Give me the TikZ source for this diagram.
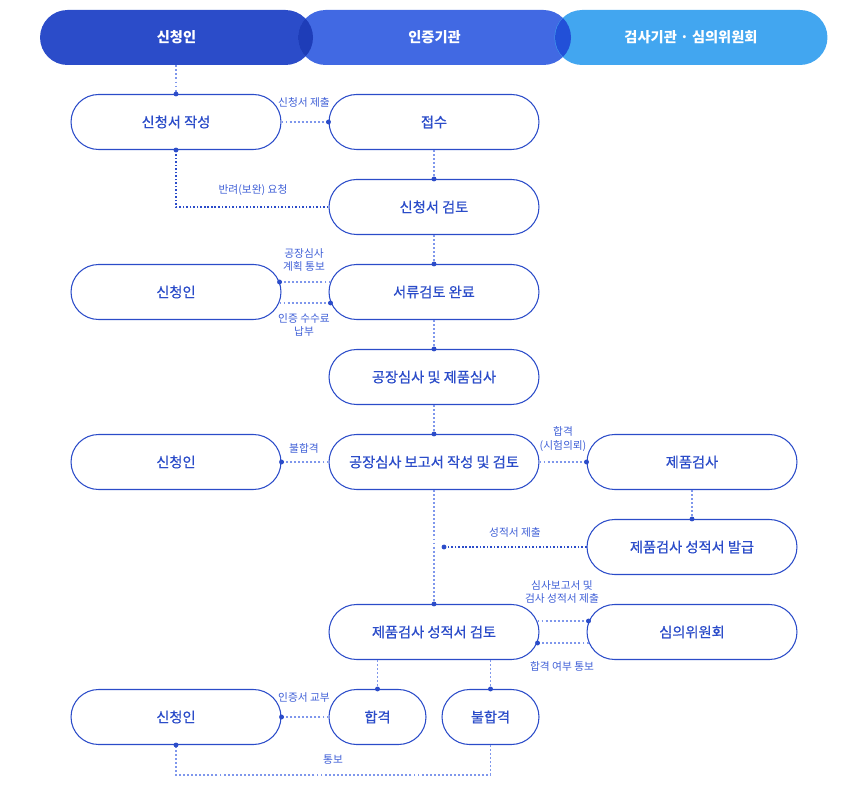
\documentclass[tikz,border=0pt]{standalone}
\usepackage{fontspec}
\setmainfont{Noto Sans CJK KR}
\newfontfamily\midfont{Noto Sans CJK KR}[FakeBold=0.6]
\usetikzlibrary{positioning,shapes.misc}

\definecolor{hdone}{HTML}{2B4CC9}
\definecolor{hdtwo}{HTML}{4169E3}
\definecolor{hdthree}{HTML}{42A6F0}
\definecolor{lapone}{HTML}{1E3DB8}
\definecolor{laptwo}{HTML}{2250D8}
\definecolor{ink}{HTML}{2B4CC9}
\definecolor{linkc}{HTML}{7F97EC}
\definecolor{lblc}{HTML}{3F5FD6}

\begin{document}
\begin{tikzpicture}[x=0.02cm, y=-0.02cm, align=center,
  header/.style={rounded rectangle, minimum width=5.46cm, minimum height=1.1cm,
    inner sep=0, text=white, font=\fontsize{8.1pt}{9pt}\selectfont\bfseries},
  stepbox/.style={rounded rectangle, draw=ink, line width=0.6pt, fill=white,
    minimum width=4.2cm, minimum height=1.1cm, inner sep=0, text=ink,
    font=\midfont\fontsize{8.1pt}{9pt}\selectfont},
  smallbox/.style={stepbox, minimum width=1.94cm},
  link/.style={draw=linkc, line width=1.1pt, dash pattern=on 1.1pt off 1.2pt},
  back/.style={draw=ink, line width=0.6pt, dash pattern=on 0.9pt off 1.1pt},
  joint/.style={circle, fill=ink, inner sep=0, minimum size=2.8pt},
  lbl/.style={text=lblc, font=\fontsize{6.1pt}{7.7pt}\selectfont} ]

\useasboundingbox (0,0) rectangle (868,786);

% Headers
\node[header, fill=hdone] (H1) at (176.5,37.5) {};
\node[header, fill=hdtwo] (H2) at (434.5,37.5) {};
\node[header, fill=hdthree] (H3) at (691,37.5) {};
\begin{scope}
  \clip[rounded corners=0.55cm] (40,10) rectangle (313,65);
  \fill[lapone, rounded corners=0.55cm] (298,10) rectangle (571,65);
\end{scope}
\begin{scope}
  \clip[rounded corners=0.55cm] (298,10) rectangle (571,65);
  \fill[laptwo, rounded corners=0.55cm] (555,10) rectangle (827,65);
\end{scope}
\node[header] (T1) at (H1) {신청인};
\node[header] (T2) at (H2) {인증기관};
\node[header] (T3) at (H3) {검사기관 · 심의위원회};

% Applicant column
\node[stepbox] (A1) at (176,122) {신청서 작성};
\node[stepbox] (A3) at (176,292) {신청인};
\node[stepbox] (A5) at (176,462) {신청인};
\node[stepbox] (A8) at (176,717) {신청인};

% Certification body column
\node[stepbox] (B1) at (434,122) {접수};
\node[stepbox] (B2) at (434,207) {신청서 검토};
\node[stepbox] (B3) at (434,292) {서류검토 완료};
\node[stepbox] (B4) at (434,377) {공장심사 및 제품심사};
\node[stepbox] (B5) at (434,462) {공장심사 보고서 작성 및 검토};
\node[stepbox] (B7) at (434,632) {제품검사 성적서 검토};
\node[smallbox] (P8) at (377.5,717) {합격};
\node[smallbox] (F8) at (490.5,717) {불합격};

% Testing body / committee column
\node[stepbox] (C5) at (692,462) {제품검사};
\node[stepbox] (C6) at (692,547) {제품검사 성적서 발급};
\node[stepbox] (C7) at (692,632) {심의위원회};

% Connections
\draw[link] (H1.south -| A1.north) -- (A1.north) node[joint] {};
\draw[link] (A1.east) -- (B1.west) node[joint] {};
\draw[link] (B1.south) -- (B2.north) node[joint] {};
\draw[back] (B2.west) -| (A1.south) node[joint] {};
\draw[link] (B2.south) -- (B3.north) node[joint] {};
\draw[link] ([shift={(2,-10)}]B3.west) -- ([shift={(-2,-10)}]A3.east) node[joint] {};
\draw[link] ([shift={(-2,11)}]A3.east) -- ([shift={(2,11)}]B3.west) node[joint] {};
\draw[link] (B3.south) -- (B4.north) node[joint] {};
\draw[link] (B4.south) -- (B5.north) node[joint] {};
\draw[link] (B5.west) -- (A5.east) node[joint] {};
\draw[link] (B5.east) -- (C5.west) node[joint] {};
\draw[link] (C5.south) -- (C6.north) node[joint] {};
\coordinate (M6) at (444,547);
\draw[back] (C6.west) -- (M6) node[joint] {};
\draw[link] (B5.south) -- (B7.north) node[joint] {};
\draw[link] ([shift={(-2,-11)}]B7.east) -- ([shift={(2,-11)}]C7.west) node[joint] {};
\draw[link] ([shift={(2,11)}]C7.west) -- ([shift={(-2,11)}]B7.east) node[joint] {};
\draw[link] (B7.south -| P8.north) -- (P8.north) node[joint] {};
\draw[link] (B7.south -| F8.north) -- (F8.north) node[joint] {};
\draw[link] (P8.west) -- (A8.east) node[joint] {};
\draw[link] (F8.south) -- ++(0,30) -| (A8.south) node[joint] {};

% Labels
\node[lbl] (L1) at (304,102) {신청서 제출};
\node[lbl] (L2) at (253,190) {반려(보완) 요청};
\node[lbl] (L3) at (304,260) {공장심사\\계획 통보};
\node[lbl] (L4) at (304,325) {인증 수수료\\납부};
\node[lbl] (L5) at (304,448) {불합격};
\node[lbl] (L6) at (563,439) {합격\\(시험의뢰)};
\node[lbl] (L7) at (515,532) {성적서 제출};
\node[lbl] (L8) at (562,592) {심사보고서 및\\검사 성적서 제출};
\node[lbl] (L9) at (562,666) {합격 여부 통보};
\node[lbl] (L10) at (304,697) {인증서 교부};
\node[lbl] (L11) at (333,760) {통보};

\end{tikzpicture}
\end{document}
